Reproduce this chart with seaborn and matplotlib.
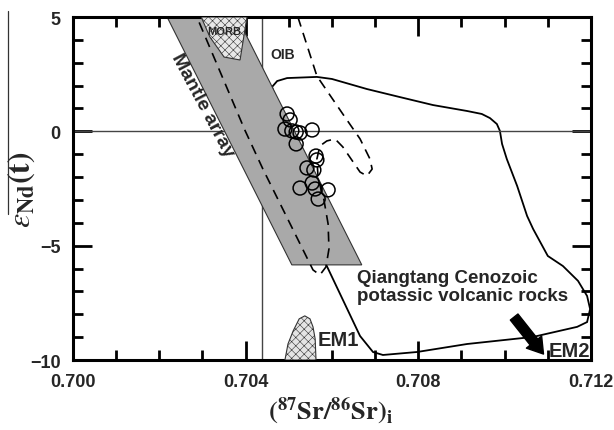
import numpy as np
import matplotlib
matplotlib.use('Agg')
import matplotlib.pyplot as plt
import seaborn as sns
import pandas as pd
from matplotlib.lines import Line2D

# Samples: (87Sr/86Sr)i vs eNd(t)
sample_sr = [0.70496, 0.70503, 0.70491, 0.70507, 0.70517, 0.70526, 0.70554, 0.70517,
             0.70563, 0.70565, 0.70542, 0.70558, 0.70554, 0.70526, 0.70561, 0.70591, 0.70568]
sample_nd = [0.76, 0.50, 0.10, 0.02, -0.03, -0.07, 0.06, -0.55,
             -1.08, -1.25, -1.60, -1.69, -2.26, -2.48, -2.52, -2.56, -2.96]

# Mantle array band
mantle_sr = [0.70218, 0.70380, 0.70669, 0.70507]
mantle_nd = [5.0, 5.0, -5.84, -5.84]

# MORB field
morb_sr = [0.70297, 0.70317, 0.70350, 0.70387, 0.70403]
morb_nd = [5.0, 4.13, 3.25, 3.12, 5.0]

# OIB field (dashed, open at top)
oib_sr = [0.70521, 0.70565, 0.70625, 0.70665, 0.70688, 0.70693, 0.70681, 0.70665, 0.70649,
          0.70625, 0.70607, 0.70588, 0.70572, 0.70565, 0.70568, 0.70581, 0.70591, 0.70593,
          0.70586, 0.70572, 0.70556, 0.70440, 0.70398, 0.70287]
oib_nd = [5.0, 2.42, 0.76, -0.33, -1.21, -1.65, -1.95, -1.78, -1.34,
          -0.68, -0.33, -0.42, -0.64, -1.21, -2.08, -2.96, -4.05, -5.14,
          -5.93, -6.28, -6.06, -1.65, 0.06, 5.0]

# Qiangtang Cenozoic potassic volcanic rocks field
qt_sr = [0.70461, 0.70473, 0.70496, 0.70565, 0.70600, 0.70681, 0.70757, 0.70834, 0.70913,
         0.70947, 0.70966, 0.70982, 0.70989, 0.70994, 0.71005, 0.71029, 0.71052, 0.71066,
         0.71100, 0.71135, 0.71170, 0.71191, 0.71198, 0.71191, 0.71168, 0.71066, 0.70913,
         0.70797, 0.70718, 0.70695, 0.70665, 0.70588, 0.70461]
qt_nd = [1.94, 2.20, 2.33, 2.38, 2.29, 1.85, 1.50, 1.15, 0.89,
         0.76, 0.58, 0.32, 0.02, -0.55, -1.21, -2.39, -3.70, -4.27,
         -5.45, -5.89, -6.54, -7.20, -7.77, -8.34, -8.55, -8.99, -9.30,
         -9.65, -9.78, -9.65, -8.95, -5.89, 1.94]

# EM1 field
em1_sr = [0.70491, 0.70498, 0.70510, 0.70524, 0.70537, 0.70549, 0.70556, 0.70561, 0.70563]
em1_nd = [-10.0, -9.30, -8.73, -8.20, -8.07, -8.20, -8.55, -9.08, -10.0]

bulk_earth_sr = 0.70438

sns.set_theme(style='white')
plt.rcParams['font.family'] = ['Liberation Sans', 'DejaVu Sans']
plt.rcParams['mathtext.fontset'] = 'stix'
plt.rcParams['hatch.color'] = '#c4c4c4'
plt.rcParams['hatch.linewidth'] = 0.4

fig = plt.figure(figsize=(6.14, 4.31), dpi=100)
ax = fig.add_axes([0.1189, 0.1624, 0.8436, 0.7958])

# fields
ax.fill(qt_sr, qt_nd, facecolor='none', edgecolor='black', lw=1.3, zorder=1)
ax.fill(mantle_sr, mantle_nd, facecolor='#a9a9a9', edgecolor='#333333', lw=0.8, zorder=2)
ax.fill(morb_sr, morb_nd, facecolor='#e8e8e8', edgecolor='#333333', lw=0.8, hatch='xxxx', zorder=3)
ax.fill(em1_sr, em1_nd, facecolor='#e4e4e4', edgecolor='#333333', lw=0.8, hatch='xxxx', zorder=3)
ax.plot(oib_sr, oib_nd, color='black', lw=1.2, ls=(0, (6, 4)), zorder=4)

# reference lines
ax.axhline(0, color='#444444', lw=1.0, zorder=1)
ax.axvline(bulk_earth_sr, color='#444444', lw=1.0, zorder=1)

pts = pd.DataFrame({'sr': sample_sr, 'nd': sample_nd})
sns.scatterplot(data=pts, x='sr', y='nd', ax=ax, s=100, facecolor='none',
                edgecolor='black', linewidth=1.1, zorder=5)

ax.set_xlim(0.700, 0.712)
ax.set_ylim(-10, 5)
ax.set_xticks([0.700, 0.704, 0.708, 0.712])
ax.set_xticklabels(['0.700', '0.704', '0.708', '0.712'])
ax.set_xticks(np.arange(0.700, 0.7121, 0.001), minor=True)
ax.set_yticks([-10, -5, 0, 5])
ax.set_yticks(np.arange(-10, 6, 1), minor=True)
ax.tick_params(which='both', direction='in', bottom=True, left=True, top=True, right=True,
               width=2, color='black')
ax.tick_params(which='major', length=14, labelsize=13, pad=9)
ax.tick_params(which='minor', length=7)
for lab in ax.get_xticklabels() + ax.get_yticklabels():
    lab.set_fontweight('bold')
for sp in ax.spines.values():
    sp.set_linewidth(2.2)
    sp.set_color('black')
ax.set_xlabel('')
ax.set_ylabel('')

# annotations
ax.text(0.70350, 4.4, 'MORB', fontsize=8, fontweight='bold', ha='center', va='center', zorder=6)
ax.text(0.70486, 3.38, 'OIB', fontsize=10, fontweight='bold', ha='center', va='center', zorder=6)
ax.text(0.70300, 1.15, 'Mantle array', fontsize=14, fontweight='bold', rotation=-62,
        ha='center', va='center', zorder=6)
ax.text(0.70658, -6.78, 'Qiangtang Cenozoic\npotassic volcanic rocks', fontsize=13.5,
        fontweight='bold', ha='left', va='center', linespacing=1.08, zorder=6)
ax.text(0.70566, -9.1, 'EM1', fontsize=14.5, fontweight='bold', ha='left', va='center', zorder=6)
ax.text(0.71198, -9.58, 'EM2', fontsize=14.5, fontweight='bold', ha='right', va='center', zorder=6)
ax.annotate('', xy=(0.71090, -9.74), xytext=(0.71022, -8.12),
            arrowprops=dict(facecolor='black', edgecolor='black', width=7, headwidth=14,
                            headlength=11), zorder=6)

fig.text(0.5375, 0.048, r'$\mathbf{(^{87}Sr/^{86}Sr)_{i}}$', fontsize=19,
         ha='center', va='center')
fig.text(0.036, 0.56, r'$\varepsilon_{\mathbf{Nd}}\mathbf{(t)}$', fontsize=23,
         rotation=90, ha='center', va='center')
fig.add_artist(Line2D([0.013, 0.013], [0.972, 0.501], color='#333333', lw=0.9))

plt.savefig('out.png', dpi=100)
